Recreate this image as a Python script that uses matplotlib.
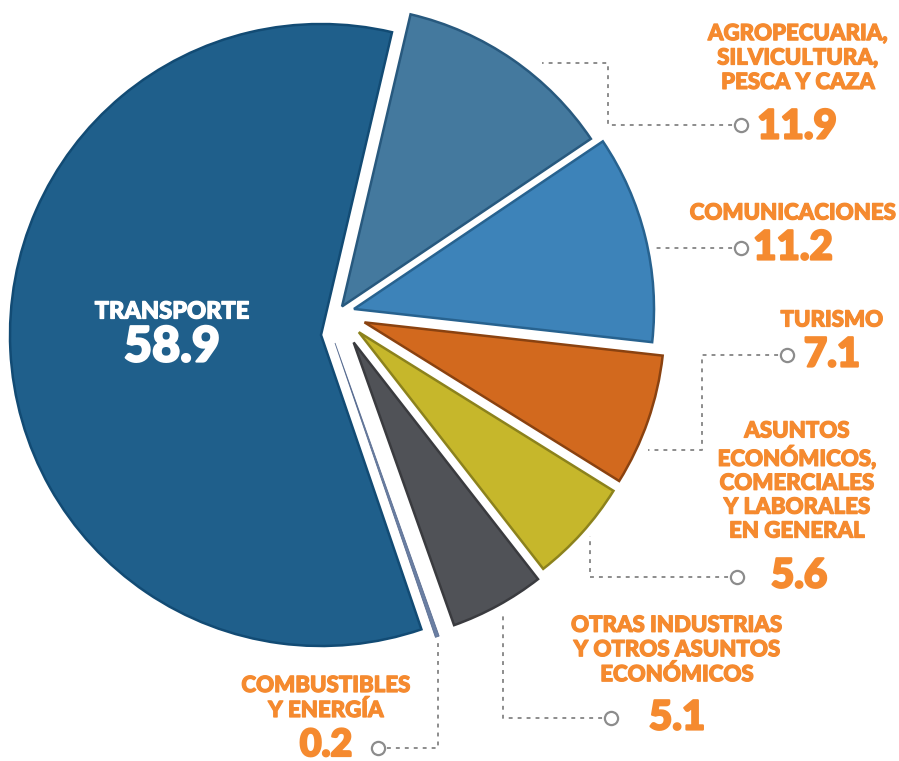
import matplotlib
matplotlib.use("Agg")
import matplotlib.pyplot as plt
import matplotlib.patheffects as pe
from matplotlib.lines import Line2D

# ---------------- data ----------------
categories = ["AGROPECUARIA,\nSILVICULTURA,\nPESCA Y CAZA", "COMUNICACIONES", "TURISMO",
              "ASUNTOS\nECONÓMICOS,\nCOMERCIALES\nY LABORALES\nEN GENERAL",
              "OTRAS INDUSTRIAS\nY OTROS ASUNTOS\nECONÓMICOS",
              "COMBUSTIBLES\nY ENERGÍA", "TRANSPORTE"]
values = [11.9, 11.2, 7.1, 5.6, 5.1, 0.2, 58.9]
value_labels = ["11.9", "11.2", "7.1", "5.6", "5.1", "0.2", "58.9"]

colors = ["#44799E", "#3D83B9", "#D2691E", "#C6B72B", "#505257", "#6A7FA3", "#1F5F8B"]
edges = ["#28597E", "#27628F", "#8A4210", "#8C821C", "#3A3B3F", "#5A6E92", "#124B74"]

W, H = 899, 761
START = 76.8

# layout (pixels): three groups of wedges sharing the same angles
groups = [
    # (center px, radius px, explode px per wedge, visible indices)
    ((321, 335), 311, [0, 0, 0, 0, 0, 0, 0], [6]),
    ((337.5, 313), 300, [8, 17, 28.6, 28.7, 33.6, 0, 0], [0, 1, 2, 3, 4]),
    ((335, 343), 311, [0, 0, 0, 0, 0, 0, 0], [5]),
]


def P(px, py):
    return (px, H - py)


fig = plt.figure(figsize=(W / 100, H / 100), dpi=100)
ax = fig.add_axes([0, 0, 1, 1])

for (cx, cy), rad, expl, vis in groups:
    wedges, _ = ax.pie(values, colors=colors, explode=expl, startangle=START,
                       counterclock=False, radius=rad, center=P(cx, cy),
                       wedgeprops=dict(linewidth=1.8), normalize=True)
    for i, (w, ec) in enumerate(zip(wedges, edges)):
        w.set_edgecolor(ec)
        w.set_joinstyle("miter")
        if i not in vis:
            w.set_visible(False)
        if i == 5:
            w.set_linewidth(0.6)

ax.set_aspect("auto")
ax.set_xlim(0, W)
ax.set_ylim(0, H)
ax.axis("off")

FONT = ["Lato", "DejaVu Sans"]
ORANGE = "#F58A2F"
GRAY = "#8C8C8C"


def leader(points):
    xs, ys = zip(*[P(x, y) for x, y in points])
    ax.add_line(Line2D(xs, ys, color=GRAY, lw=1.4, linestyle=(0, (2.0, 2.6)), zorder=3))
    x0, y0 = P(*points[0])
    ax.plot([x0], [y0], marker="o", markersize=9.5, markerfacecolor="white",
            markeredgecolor=GRAY, markeredgewidth=1.6, zorder=4)


def label(text, x, y, size=16.0, color=ORANGE, ls=1.2, stroke=0.9):
    ax.text(*P(x, y), text, ha="center", va="center", fontsize=size, color=color,
            fontweight="black", family=FONT, linespacing=ls, zorder=5,
            path_effects=[pe.withStroke(linewidth=stroke, foreground=color)])


def number(text, x, y, size=29, color=ORANGE, stroke=1.6):
    ax.text(*P(x, y), text, ha="center", va="center", fontsize=size, color=color,
            fontweight="black", family=FONT, zorder=5,
            path_effects=[pe.withStroke(linewidth=stroke, foreground=color)])


# Agropecuaria
label(categories[0], 798, 58)
number(value_labels[0], 797, 127)
leader([(741, 125), (608, 125), (608, 63), (542, 63)])

# Comunicaciones
label(categories[1], 793, 213)
number(value_labels[1], 793, 248)
leader([(741, 248), (656, 248)])

# Turismo
label(categories[2], 832, 320)
number(value_labels[2], 832, 355)
leader([(787, 355), (702, 355), (702, 450), (648, 450)])

# Asuntos economicos
label(categories[3], 797, 481, ls=1.17)
number(value_labels[3], 799, 576)
leader([(737, 577), (590, 577), (590, 536)])

# Otras industrias
label(categories[4], 677, 650)
number(value_labels[4], 677, 718)
leader([(611, 718), (503, 718), (503, 612)])

# Combustibles
label(categories[5], 326, 698)
number(value_labels[5], 326, 745, size=27)
leader([(378, 748), (438, 748), (438, 640)])

# Transporte
label(categories[6], 172, 311, color="white", size=17)
number(value_labels[6], 172, 347, size=35, color="white")

fig.savefig("out.png", dpi=100, facecolor="white")
